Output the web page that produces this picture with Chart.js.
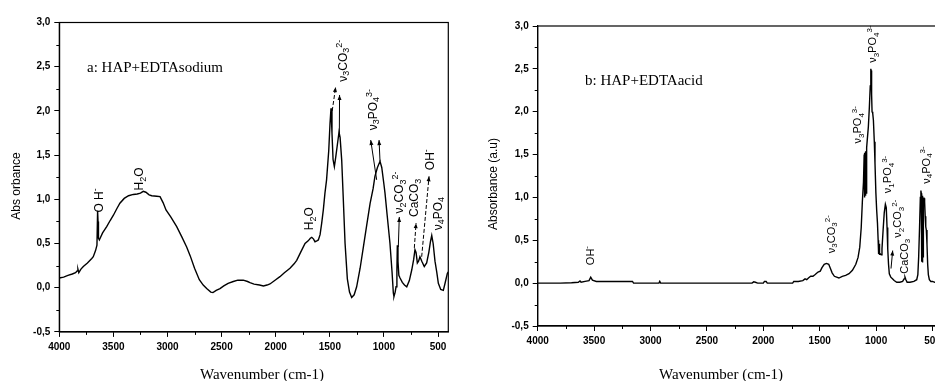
<!DOCTYPE html>
<html>
<head>
<meta charset="utf-8">
<script src="https://cdn.jsdelivr.net/npm/chart.js@4.4.1/dist/chart.umd.min.js"></script>
<style>
  html, body { margin: 0; padding: 0; background: #fff; }
  #wrap { position: relative; width: 935px; height: 381px; overflow: hidden; }
  #left { position: absolute; left: 0; top: 0; }
  #right { position: absolute; left: 465px; top: 0; }
</style>
</head>
<body>
<div id="wrap">
  <canvas id="left" width="465" height="381"></canvas>
  <canvas id="right" width="490" height="381"></canvas>
</div>
<script>
// tick values
const xTicks = [4000, 3500, 3000, 2500, 2000, 1500, 1000, 500]
const xMinor = [3750, 3250, 2750, 2250, 1750, 1250, 750]
const yTicks = [-0.5, 0, 0.5, 1.0, 1.5, 2.0, 2.5, 3.0]
const yMinor = [-0.25, 0.25, 0.75, 1.25, 1.75, 2.25, 2.75]

// a: HAP+EDTAsodium
const sodiumWave = [4000, 3960, 3920, 3880, 3850, 3835, 3828, 3820, 3800, 3778, 3740, 3700, 3686, 3665, 3652, 3646, 3642, 3638, 3630, 3600,
  3562, 3530, 3500, 3470, 3440, 3400, 3360, 3316, 3280, 3250, 3224, 3200, 3170, 3146, 3100, 3069, 3040, 3014, 2970, 2915,
  2870, 2823, 2790, 2750, 2706, 2670, 2638, 2600, 2580, 2550, 2515, 2480, 2440, 2392, 2350, 2300, 2260, 2238, 2200, 2150,
  2114, 2080, 2053, 2000, 1961, 1920, 1868, 1830, 1806, 1770, 1729, 1700, 1680, 1667, 1650, 1637, 1620, 1606, 1590, 1575,
  1560, 1545, 1530, 1510, 1498, 1489, 1480, 1470, 1458, 1445, 1430, 1415, 1405, 1390, 1375, 1359, 1338, 1318, 1298, 1275,
  1252, 1220, 1190, 1160, 1128, 1100, 1083, 1060, 1036, 1020, 1000, 990, 970, 944, 925, 913, 907, 896, 888, 880,
  876, 870, 862, 851, 830, 810, 789, 765, 743, 725, 713, 703, 691, 680, 667, 650, 627, 605, 585, 570,
  558, 545, 528, 512, 497, 475, 451, 435, 414, 405]
const sodiumAbs = [0.11, 0.12, 0.14, 0.155, 0.17, 0.19, 0.21, 0.17, 0.21, 0.24, 0.28, 0.33, 0.35, 0.42, 0.48, 0.87, 0.75, 0.56, 0.54, 0.62,
  0.69, 0.76, 0.82, 0.89, 0.955, 1.01, 1.04, 1.055, 1.06, 1.07, 1.09, 1.08, 1.05, 1.04, 1.035, 1.03, 0.96, 0.88, 0.80, 0.69,
  0.58, 0.46, 0.36, 0.22, 0.09, 0.03, -0.01, -0.05, -0.055, -0.03, -0.01, 0.02, 0.05, 0.07, 0.085, 0.085, 0.07, 0.057, 0.04, 0.03,
  0.02, 0.03, 0.042, 0.09, 0.125, 0.17, 0.22, 0.27, 0.31, 0.40, 0.50, 0.53, 0.56, 0.57, 0.55, 0.52, 0.53, 0.54, 0.60, 0.73,
  0.88, 1.07, 1.22, 1.55, 1.86, 2.03, 1.75, 1.45, 1.37, 1.48, 1.62, 1.76, 1.70, 1.44, 0.99, 0.50, 0.10, -0.05, -0.11, -0.08,
  0.01, 0.22, 0.46, 0.70, 0.95, 1.12, 1.26, 1.36, 1.43, 1.36, 1.17, 1.07, 0.82, 0.50, 0.18, -0.06, -0.10, -0.05, 0.01, 0.20,
  0.48, 0.30, 0.14, 0.11, 0.06, 0.03, 0.01, 0.08, 0.20, 0.32, 0.43, 0.40, 0.28, 0.30, 0.35, 0.30, 0.24, 0.28, 0.40, 0.52,
  0.59, 0.50, 0.30, 0.18, 0.05, -0.02, -0.03, 0.05, 0.16, 0.18]

// b: HAP+EDTAacid
const acidWave = [4000, 3900, 3800, 3700, 3640, 3625, 3615, 3580, 3545, 3530, 3515, 3480, 3400, 3300, 3200, 3160, 3150, 2925, 2918, 2910,
  2100, 2085, 2070, 2050, 2000, 1990, 1975, 1965, 1740, 1730, 1690, 1650, 1630, 1615, 1600, 1580, 1560, 1540, 1515, 1495,
  1480, 1460, 1440, 1420, 1405, 1390, 1370, 1350, 1330, 1300, 1270, 1240, 1210, 1180, 1160, 1145, 1132, 1122, 1112, 1106,
  1104, 1102, 1100, 1098, 1096, 1094, 1092, 1090, 1088, 1086, 1084, 1082, 1078, 1069, 1060, 1052, 1047, 1044, 1040, 1036,
  1030, 1024, 1016, 1010, 1002, 995, 988, 982, 980, 978, 976, 974, 972, 970, 967, 962, 955, 948, 938, 928,
  918, 910, 903, 897, 890, 883, 870, 855, 840, 817, 790, 765, 752, 744, 736, 725, 700, 665, 640, 630,
  623, 615, 608, 603, 600, 598, 596, 594, 592, 590, 588, 586, 584, 582, 580, 575, 570, 565, 560, 555,
  549, 543, 537, 528, 515, 500, 480, 450, 400]
const acidAbs = [0.00, 0.00, 0.00, 0.005, 0.01, 0.025, 0.01, 0.02, 0.03, 0.07, 0.035, 0.02, 0.02, 0.02, 0.02, 0.02, 0.00, 0.00, 0.02, 0.00,
  0.00, 0.015, 0.01, 0.00, 0.00, 0.02, 0.02, 0.00, 0.00, 0.02, 0.02, 0.03, 0.05, 0.04, 0.06, 0.08, 0.08, 0.10, 0.13, 0.14,
  0.18, 0.22, 0.23, 0.22, 0.17, 0.12, 0.08, 0.07, 0.06, 0.08, 0.09, 0.11, 0.15, 0.22, 0.30, 0.42, 0.65, 0.95, 1.18, 1.50,
  1.00, 1.52, 1.00, 1.52, 1.02, 1.53, 1.03, 1.54, 1.05, 1.55, 1.10, 1.58, 1.68, 1.82, 2.05, 2.30, 2.50, 2.48, 2.20, 2.00,
  1.98, 1.90, 1.65, 1.40, 1.05, 0.85, 0.70, 0.50, 0.35, 0.48, 0.34, 0.46, 0.33, 0.44, 0.35, 0.34, 0.33, 0.40, 0.62, 0.82,
  0.92, 0.88, 0.65, 0.40, 0.22, 0.11, 0.07, 0.05, 0.03, 0.01, 0.01, 0.02, 0.05, 0.07, 0.04, 0.01, 0.01, 0.02, 0.04, 0.10,
  0.30, 0.65, 1.00, 1.08, 1.05, 0.28, 1.04, 0.25, 1.02, 0.24, 1.00, 0.28, 0.99, 0.30, 0.99, 0.99, 0.95, 0.78, 0.66, 0.62,
  0.45, 0.22, 0.10, 0.04, 0.02, 0.02, 0.01, 0.01, 0.01]

// band labels: {..} = subscript, [..] = superscript
const sodiumLabels = ['O H[-]', 'H{2}O', 'H{2}O', 'ν{3}CO{3}[2-]', 'ν{3}PO{4}[3-]', 'ν{2}CO{3}[2-]', 'CaCO{3}', 'OH[-]', 'ν{4}PO{4}']
const sodiumLabelWave = [3630, 3255, 1685, 1375, 1098, 850, 713, 565, 497]
const sodiumLabelAbs = [0.85, 1.10, 0.65, 2.33, 1.78, 0.84, 0.80, 1.33, 0.65]
// arrows: [wave from, abs from, wave to, abs to, dashed]
const sodiumArrows = [
  [1478, 2.0, 1446, 2.27, true],
  [1412, 1.74, 1410, 2.18, false],
  [1067, 1.22, 1122, 1.67, false],
  [1036, 1.43, 1045, 1.67, false],
  [867, 0.46, 858, 0.80, false],
  [719, 0.45, 703, 0.73, true],
  [651, 0.35, 583, 1.26, true]
]

const acidLabels = ['OH[-]', 'ν{3}CO{3}[2-]', 'ν{3}PO{4}[3-]', 'ν{3}PO{4}[3-]', 'ν{1}PO{4}[3-]', 'ν{2}CO{3}[2-]', 'CaCO{3}', 'ν{4}PO{4}[3-]']
const acidLabelWave = [3527, 1394, 1158, 1025, 892, 803, 744, 552]
const acidLabelAbs = [0.21, 0.35, 1.63, 2.57, 1.05, 0.53, 0.11, 1.16]
const acidArrows = [
  [868, 0.17, 853, 0.38, false]
]

function drawArrow(ctx, x1, y1, x2, y2, dashed) {
  ctx.save()
  ctx.strokeStyle = '#000'
  ctx.fillStyle = '#000'
  ctx.lineWidth = 1
  if (dashed) ctx.setLineDash([4, 2])
  ctx.beginPath()
  ctx.moveTo(x1, y1)
  ctx.lineTo(x2, y2)
  ctx.stroke()
  ctx.setLineDash([])
  var ang = Math.atan2(y2 - y1, x2 - x1)
  ctx.translate(x2, y2)
  ctx.rotate(ang)
  ctx.beginPath()
  ctx.moveTo(0, 0)
  ctx.lineTo(-5, -2)
  ctx.lineTo(-5, 2)
  ctx.closePath()
  ctx.fill()
  ctx.restore()
}

// draws text with {sub} and [sup] parts, starting at 0,0 on the baseline middle
function drawRich(ctx, text, size) {
  var parts = text.split(/(\{[^}]*\}|\[[^\]]*\])/)
  var x = 0
  var small = Math.round(size * 0.72)
  parts.forEach(function (p) {
    if (!p) return
    var dy = 0
    var s = size
    if (p[0] === '{') { p = p.slice(1, -1); s = small; dy = size * 0.3 }
    else if (p[0] === '[') { p = p.slice(1, -1); s = small; dy = -size * 0.35 }
    ctx.font = s + 'px "Liberation Sans", Arial, sans-serif'
    ctx.fillText(p, x, dy)
    x += ctx.measureText(p).width
  })
}

function makeDecor(cfg) {
  return {
    id: 'decor',
    afterDraw(chart) {
      var ctx = chart.ctx
      var a = chart.chartArea
      var xs = chart.scales.x
      var ys = chart.scales.y
      ctx.save()
      ctx.strokeStyle = '#000'
      ctx.lineWidth = 1.2
      ctx.strokeRect(a.left, a.top, a.right - a.left, a.bottom - a.top)

      // minor ticks
      ctx.lineWidth = 1
      ctx.beginPath()
      xMinor.forEach(function (v) {
        var px = Math.round(xs.getPixelForValue(v)) + 0.5
        ctx.moveTo(px, a.bottom)
        ctx.lineTo(px, a.bottom + 3)
      })
      yMinor.forEach(function (v) {
        var py = Math.round(ys.getPixelForValue(v)) + 0.5
        ctx.moveTo(a.left, py)
        ctx.lineTo(a.left - 3, py)
      })
      ctx.stroke()

      // band labels
      ctx.fillStyle = '#000'
      ctx.textAlign = 'left'
      ctx.textBaseline = 'middle'
      cfg.labels.forEach(function (t, i) {
        ctx.save()
        ctx.translate(xs.getPixelForValue(cfg.labelWave[i]), ys.getPixelForValue(cfg.labelAbs[i]))
        ctx.rotate(-Math.PI / 2)
        drawRich(ctx, t, cfg.labelSize)
        ctx.restore()
      })
      cfg.arrows.forEach(function (r) {
        drawArrow(ctx, xs.getPixelForValue(r[0]), ys.getPixelForValue(r[1]),
          xs.getPixelForValue(r[2]), ys.getPixelForValue(r[3]), r[4])
      })

      // panel caption
      ctx.font = '15px "Liberation Serif", "Times New Roman", serif'
      ctx.textBaseline = 'alphabetic'
      ctx.fillText(cfg.caption, cfg.captionX, cfg.captionY)

      // axis titles
      ctx.textAlign = 'center'
      ctx.textBaseline = 'middle'
      ctx.fillText('Wavenumber (cm-1)', cfg.xTitleX, 375)
      ctx.font = '12px "Liberation Sans", Arial, sans-serif'
      ctx.translate(cfg.yTitleX, cfg.yTitleY)
      ctx.rotate(-Math.PI / 2)
      ctx.fillText(cfg.yTitle, 0, 0)
      ctx.restore()
    }
  }
}

function makeChart(canvasId, wave, abs, cfg) {
  var tickFont = { family: 'Arial, "Liberation Sans", sans-serif', size: 10, weight: 'bold' }
  var points = wave.map(function (w, i) { return { x: w, y: abs[i] } })
  return new Chart(document.getElementById(canvasId), {
    type: 'line',
    data: {
      datasets: [{
        data: points,
        borderColor: '#000',
        borderWidth: 1.4,
        pointRadius: 0,
        tension: 0,
        fill: false
      }]
    },
    options: {
      responsive: false,
      animation: false,
      events: [],
      layout: { padding: { top: cfg.top, right: cfg.right, left: 0, bottom: 0 } },
      plugins: { legend: { display: false }, tooltip: { enabled: false } },
      scales: {
        x: {
          type: 'linear',
          reverse: true,
          min: cfg.xMin,
          max: 4000,
          afterBuildTicks: function (s) { s.ticks = xTicks.map(function (v) { return { value: v } }) },
          afterFit: function (s) { s.height = cfg.xHeight },
          ticks: { autoSkip: false, maxRotation: 0, font: tickFont, color: '#000', padding: 4,
            callback: function (v) { return String(v) } },
          grid: { drawOnChartArea: false, tickLength: 5, tickColor: '#000', tickWidth: 1 },
          border: { color: '#000', width: 1.2 }
        },
        y: {
          min: -0.5,
          max: 3.0,
          afterBuildTicks: function (s) { s.ticks = yTicks.map(function (v) { return { value: v } }) },
          afterFit: function (s) { s.width = cfg.yWidth },
          ticks: { font: tickFont, color: '#000', padding: 4,
            callback: function (v) { return v.toFixed(1).replace('.', ',') } },
          grid: { drawOnChartArea: false, tickLength: 5, tickColor: '#000', tickWidth: 1 },
          border: { color: '#000', width: 1.2 }
        }
      }
    },
    plugins: [makeDecor(cfg)]
  })
}

makeChart('left', sodiumWave, sodiumAbs, {
  top: 22.5, right: 16.7, xHeight: 49.1, yWidth: 59.3, xMin: 405, labelSize: 12,
  labels: sodiumLabels, labelWave: sodiumLabelWave, labelAbs: sodiumLabelAbs, arrows: sodiumArrows,
  caption: 'a: HAP+EDTAsodium', captionX: 87, captionY: 72,
  xTitleX: 262, yTitle: 'Abs orbance', yTitleX: 17, yTitleY: 186
})

makeChart('right', acidWave, acidAbs, {
  top: 26, right: 11.2, xHeight: 55, yWidth: 72.7, xMin: 400, labelSize: 11,
  labels: acidLabels, labelWave: acidLabelWave, labelAbs: acidLabelAbs, arrows: acidArrows,
  caption: 'b: HAP+EDTAacid', captionX: 120, captionY: 85,
  xTitleX: 256, yTitle: 'Absorbance (a.u)', yTitleX: 29, yTitleY: 184
})
</script>
</body>
</html>
